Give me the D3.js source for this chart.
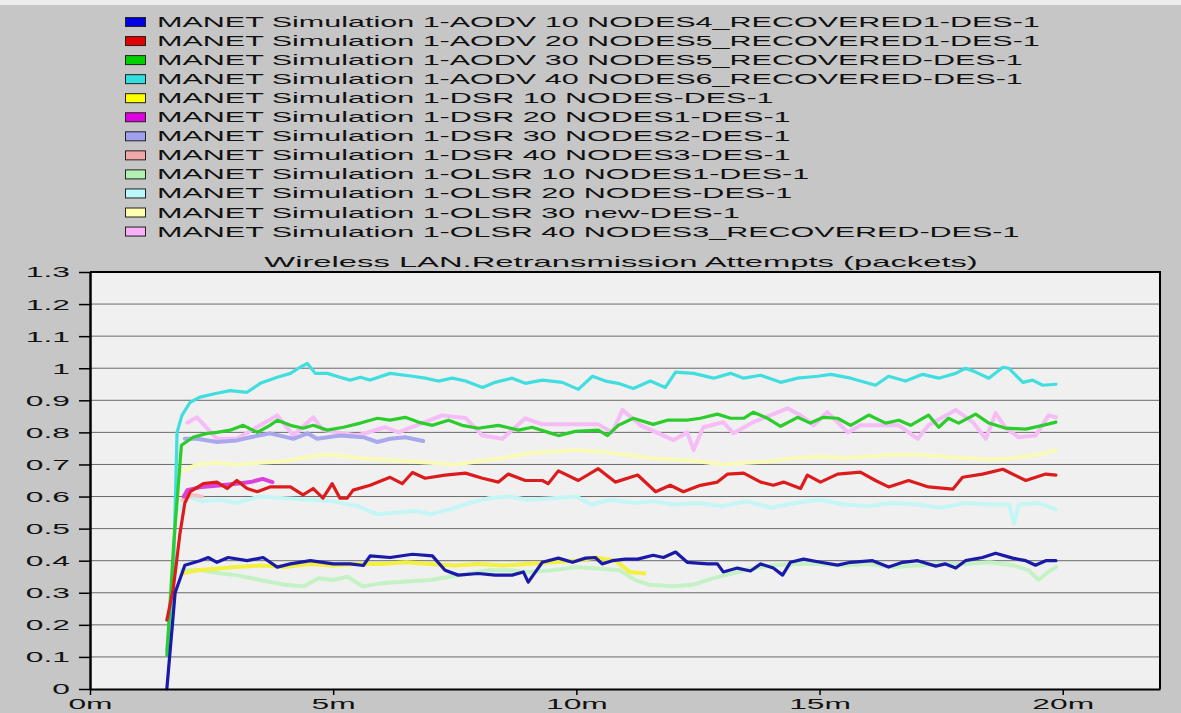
<!DOCTYPE html>
<html>
<head>
<meta charset="utf-8">
<script src="https://cdn.jsdelivr.net/npm/d3@7"></script>
<style>
  body { margin: 0; background: #c6c6c6; }
  svg { display: block; font-family: Arial, "Liberation Sans", sans-serif; }
</style>
</head>
<body>
<svg id="chart" width="1181" height="713"></svg>
<script>
// series names as in the OPNET legend
const seriesNames = [
  'MANET Simulation 1-AODV 10 NODES4_RECOVERED1-DES-1',
  'MANET Simulation 1-AODV 20 NODES5_RECOVERED1-DES-1',
  'MANET Simulation 1-AODV 30 NODES5_RECOVERED-DES-1',
  'MANET Simulation 1-AODV 40 NODES6_RECOVERED-DES-1',
  'MANET Simulation 1-DSR 10 NODES-DES-1',
  'MANET Simulation 1-DSR 20 NODES1-DES-1',
  'MANET Simulation 1-DSR 30 NODES2-DES-1',
  'MANET Simulation 1-DSR 40 NODES3-DES-1',
  'MANET Simulation 1-OLSR 10 NODES1-DES-1',
  'MANET Simulation 1-OLSR 20 NODES-DES-1',
  'MANET Simulation 1-OLSR 30 new-DES-1',
  'MANET Simulation 1-OLSR 40 NODES3_RECOVERED-DES-1'
]

const chartTitle = 'Wireless LAN.Retransmission Attempts (packets)'
const yTicks = [0, 0.1, 0.2, 0.3, 0.4, 0.5, 0.6, 0.7, 0.8, 0.9, 1, 1.1, 1.2, 1.3]
const xTicks = [0, 5, 10, 15, 20]
const xTickLabels = ['0m', '5m', '10m', '15m', '20m']

// [minutes, packets]
const aodv10 = [[1.58,0],[1.75,0.30],[1.95,0.386],[2.26,0.40],[2.43,0.41],[2.61,0.395],[2.84,0.41],[3.23,0.40],[3.56,0.41],[3.85,0.38],[4.12,0.39],[4.53,0.40],[5.0,0.39],[5.35,0.39],[5.62,0.385],[5.76,0.415],[6.17,0.41],[6.63,0.42],[7.04,0.415],[7.30,0.37],[7.57,0.355],[7.98,0.36],[8.33,0.355],[8.68,0.355],[8.91,0.365],[9.01,0.333],[9.16,0.365],[9.30,0.395],[9.63,0.408],[9.92,0.395],[10.19,0.408],[10.39,0.41],[10.53,0.39],[10.74,0.40],[11.01,0.405],[11.26,0.405],[11.58,0.417],[11.79,0.41],[12.04,0.427],[12.28,0.395],[12.70,0.39],[12.90,0.39],[13.02,0.365],[13.31,0.377],[13.58,0.368],[13.79,0.39],[14.05,0.377],[14.24,0.355],[14.40,0.395],[14.67,0.405],[15.02,0.395],[15.37,0.386],[15.64,0.395],[16.09,0.40],[16.42,0.38],[16.71,0.395],[17.02,0.40],[17.39,0.383],[17.59,0.39],[17.80,0.377],[18.0,0.40],[18.35,0.41],[18.62,0.423],[18.97,0.408],[19.24,0.40],[19.44,0.386],[19.65,0.40],[19.86,0.40]]
const aodv20 = [[1.58,0.215],[1.71,0.31],[1.85,0.485],[1.95,0.58],[2.06,0.615],[2.33,0.64],[2.61,0.645],[2.82,0.625],[3.02,0.65],[3.23,0.625],[3.44,0.615],[3.70,0.63],[4.12,0.63],[4.38,0.605],[4.59,0.625],[4.79,0.595],[4.98,0.64],[5.14,0.595],[5.29,0.595],[5.41,0.62],[5.76,0.635],[6.17,0.66],[6.42,0.64],[6.63,0.675],[6.89,0.657],[7.30,0.667],[7.72,0.673],[8.07,0.657],[8.40,0.645],[8.60,0.67],[8.95,0.65],[9.30,0.65],[9.42,0.64],[9.63,0.68],[10.04,0.65],[10.45,0.687],[10.80,0.645],[11.26,0.667],[11.63,0.615],[11.93,0.635],[12.20,0.615],[12.55,0.635],[12.90,0.645],[13.11,0.67],[13.44,0.673],[13.79,0.645],[14.05,0.635],[14.26,0.645],[14.61,0.625],[14.75,0.667],[15.02,0.645],[15.37,0.67],[15.84,0.676],[16.15,0.65],[16.42,0.63],[16.83,0.65],[17.24,0.63],[17.74,0.623],[17.94,0.66],[18.35,0.67],[18.77,0.685],[19.24,0.65],[19.65,0.67],[19.86,0.667]]
const aodv30 = [[1.58,0.105],[1.72,0.45],[1.88,0.76],[2.12,0.785],[2.41,0.797],[2.61,0.80],[2.88,0.807],[3.15,0.822],[3.44,0.80],[3.70,0.822],[3.85,0.838],[4.12,0.822],[4.38,0.813],[4.59,0.822],[4.88,0.807],[5.21,0.816],[5.56,0.829],[5.91,0.844],[6.17,0.838],[6.48,0.847],[6.75,0.832],[7.04,0.822],[7.37,0.838],[7.65,0.822],[7.98,0.813],[8.40,0.822],[8.81,0.807],[9.09,0.816],[9.42,0.80],[9.63,0.79],[9.98,0.803],[10.45,0.807],[10.64,0.79],[10.86,0.822],[11.17,0.844],[11.58,0.825],[11.87,0.838],[12.28,0.838],[12.55,0.844],[12.90,0.857],[13.17,0.844],[13.44,0.844],[13.64,0.863],[13.93,0.844],[14.20,0.819],[14.55,0.847],[14.81,0.829],[15.08,0.847],[15.37,0.844],[15.64,0.822],[16.01,0.854],[16.36,0.829],[16.63,0.838],[16.87,0.822],[17.24,0.854],[17.45,0.816],[17.65,0.844],[17.86,0.829],[18.21,0.857],[18.48,0.829],[18.83,0.813],[19.24,0.81],[19.59,0.822],[19.86,0.832]]
const aodv40 = [[1.58,0.12],[1.71,0.32],[1.79,0.80],[1.89,0.853],[2.06,0.894],[2.26,0.91],[2.61,0.922],[2.88,0.93],[3.23,0.925],[3.50,0.953],[3.85,0.972],[4.12,0.984],[4.32,1.003],[4.47,1.015],[4.63,0.984],[4.88,0.984],[5.14,0.972],[5.35,0.963],[5.56,0.972],[5.76,0.963],[6.17,0.984],[6.63,0.975],[6.89,0.969],[7.16,0.96],[7.45,0.969],[7.72,0.96],[8.07,0.94],[8.33,0.956],[8.68,0.969],[8.95,0.953],[9.30,0.963],[9.71,0.956],[10.04,0.934],[10.33,0.975],[10.60,0.96],[10.86,0.953],[11.17,0.937],[11.52,0.96],[11.83,0.94],[12.04,0.988],[12.41,0.984],[12.82,0.969],[13.17,0.984],[13.44,0.969],[13.79,0.978],[14.20,0.956],[14.55,0.969],[14.96,0.975],[15.23,0.981],[15.64,0.969],[16.15,0.947],[16.42,0.975],[16.77,0.96],[17.12,0.981],[17.45,0.969],[17.80,0.984],[18.0,1.0],[18.21,0.988],[18.48,0.969],[18.77,1.003],[18.89,1.0],[19.18,0.956],[19.38,0.963],[19.59,0.947],[19.86,0.95]]
const dsr10 = [[1.9,0.36],[2.2,0.37],[2.6,0.375],[3.0,0.38],[3.5,0.385],[4.0,0.38],[4.5,0.39],[5.0,0.385],[5.5,0.39],[6.0,0.39],[6.5,0.395],[7.0,0.39],[7.5,0.385],[8.0,0.39],[8.5,0.385],[9.0,0.39],[9.5,0.395],[10.0,0.40],[10.4,0.41],[10.8,0.40],[11.1,0.365],[11.4,0.36]]
const dsr20 = [[1.93,0.60],[2.0,0.62],[2.3,0.63],[2.7,0.635],[3.0,0.64],[3.3,0.645],[3.55,0.655],[3.75,0.645]]
const dsr30 = [[1.95,0.78],[2.2,0.78],[2.61,0.77],[3.02,0.775],[3.3,0.785],[3.7,0.797],[4.18,0.78],[4.47,0.797],[4.67,0.78],[5.14,0.79],[5.62,0.785],[5.91,0.77],[6.17,0.78],[6.48,0.785],[6.85,0.773]]
const dsr40 = [[1.9,0.59],[2.1,0.605],[2.3,0.60]]
const olsr10 = [[1.9,0.37],[2.3,0.37],[2.7,0.36],[3.0,0.355],[3.5,0.34],[4.0,0.325],[4.4,0.32],[4.7,0.345],[5.0,0.34],[5.3,0.35],[5.6,0.32],[6.0,0.33],[6.5,0.335],[7.0,0.34],[7.4,0.35],[7.8,0.36],[8.2,0.37],[8.6,0.37],[9.0,0.365],[9.5,0.37],[10.0,0.38],[10.5,0.375],[10.9,0.37],[11.2,0.34],[11.5,0.325],[12.0,0.32],[12.4,0.325],[12.8,0.345],[13.2,0.36],[13.6,0.375],[14.0,0.385],[14.5,0.39],[15.0,0.39],[15.5,0.385],[16.0,0.39],[16.5,0.38],[17.0,0.385],[17.5,0.39],[18.0,0.39],[18.5,0.395],[19.0,0.385],[19.3,0.37],[19.5,0.34],[19.7,0.365],[19.86,0.38]]
const olsr20 = [[1.85,0.56],[2.0,0.60],[2.3,0.585],[2.7,0.59],[3.0,0.58],[3.5,0.60],[4.0,0.595],[4.5,0.59],[5.0,0.585],[5.5,0.57],[5.9,0.545],[6.3,0.55],[6.7,0.555],[7.0,0.545],[7.4,0.56],[7.8,0.58],[8.2,0.595],[8.6,0.60],[9.0,0.59],[9.5,0.595],[10.0,0.60],[10.3,0.575],[10.7,0.59],[11.2,0.58],[11.6,0.585],[12.0,0.575],[12.5,0.58],[13.0,0.57],[13.5,0.585],[14.0,0.565],[14.5,0.58],[15.0,0.59],[15.5,0.575],[16.0,0.57],[16.5,0.58],[17.0,0.575],[17.5,0.565],[18.0,0.58],[18.5,0.575],[18.9,0.575],[19.0,0.515],[19.1,0.575],[19.5,0.58],[19.86,0.56]]
const olsr30 = [[1.9,0.68],[2.2,0.70],[2.6,0.705],[3.0,0.70],[3.5,0.705],[4.0,0.71],[4.5,0.725],[5.0,0.73],[5.5,0.72],[6.0,0.715],[6.5,0.71],[7.0,0.705],[7.5,0.70],[8.0,0.71],[8.5,0.72],[9.0,0.735],[9.5,0.74],[10.0,0.745],[10.5,0.74],[11.0,0.73],[11.5,0.72],[12.0,0.715],[12.5,0.71],[13.0,0.70],[13.5,0.705],[14.0,0.71],[14.5,0.72],[15.0,0.725],[15.5,0.72],[16.0,0.725],[16.5,0.73],[17.0,0.73],[17.5,0.725],[18.0,0.72],[18.5,0.715],[19.0,0.72],[19.5,0.73],[19.86,0.745]]
const olsr40 = [[2.0,0.83],[2.2,0.847],[2.61,0.78],[3.02,0.78],[3.85,0.853],[4.18,0.79],[4.59,0.847],[4.79,0.807],[5.49,0.79],[6.07,0.816],[6.34,0.80],[7.24,0.853],[7.72,0.845],[8.07,0.79],[8.48,0.78],[8.95,0.844],[9.30,0.825],[9.92,0.825],[10.45,0.825],[10.74,0.80],[10.95,0.87],[11.32,0.822],[12.0,0.776],[12.28,0.80],[12.41,0.745],[12.61,0.816],[13.02,0.832],[13.23,0.797],[13.64,0.832],[13.99,0.853],[14.34,0.875],[14.61,0.853],[14.88,0.822],[15.16,0.863],[15.58,0.80],[15.84,0.822],[16.15,0.822],[16.63,0.822],[17.02,0.78],[17.24,0.822],[17.80,0.87],[18.15,0.832],[18.42,0.78],[18.62,0.86],[18.83,0.813],[19.09,0.785],[19.44,0.79],[19.71,0.853],[19.86,0.847]]

const seriesData = [aodv10, aodv20, aodv30, aodv40, dsr10, dsr20, dsr30, dsr40, olsr10, olsr20, olsr30, olsr40]
const seriesColors = ['#1a1aa8', '#dc1c1c', '#2ccc2c', '#40dede', '#f2f040', '#dc40dc', '#aaa8ec', '#f8c0c0', '#c4f2c4', '#c4f6f6', '#fafab8', '#f6bcf6']
const legendFill = ['#0000e0', '#e00000', '#00d000', '#30e0e0', '#ffff00', '#e000e0', '#a0a0f0', '#f0a8a8', '#b0f0b0', '#b8f8f8', '#ffffb0', '#f8b0f8']

const svg = d3.select('#chart')
const W = 1181
const H = 713
const plot = { left: 90, right: 1160, top: 272, bottom: 689 }

svg.append('rect').attr('width', W).attr('height', H).attr('fill', '#c6c6c6')
svg.append('rect').attr('width', W).attr('height', 5).attr('fill', '#ececec')

const xScale = d3.scaleLinear().domain([0, 22]).range([plot.left, plot.right])
const yScale = d3.scaleLinear().domain([0, 1.3]).range([plot.bottom, plot.top])

// legend
const legend = svg.append('g')
const rowGap = 19.05
seriesNames.forEach((name, i) => {
  const cy = 22 + i * rowGap
  legend.append('rect')
    .attr('x', 125.5).attr('y', cy - 4.5)
    .attr('width', 20).attr('height', 9)
    .attr('fill', legendFill[i])
    .attr('stroke', '#222').attr('stroke-width', 1)
  legend.append('text')
    .attr('transform', `translate(157, ${cy + 5}) scale(2.18, 1)`)
    .attr('font-size', 14)
    .attr('fill', '#111')
    .text(name)
})

// title
svg.append('text')
  .attr('transform', `translate(621, 267) scale(2.34, 1)`)
  .attr('text-anchor', 'middle')
  .attr('font-size', 14)
  .attr('fill', '#111')
  .text(chartTitle)

// plot background
svg.append('rect')
  .attr('x', plot.left).attr('y', plot.top)
  .attr('width', plot.right - plot.left).attr('height', plot.bottom - plot.top)
  .attr('fill', '#f0f0f0')

// grid
svg.append('g')
  .selectAll('line')
  .data(yTicks.filter(d => d > 0 && d < 1.3))
  .enter()
  .append('line')
  .attr('x1', plot.left).attr('x2', plot.right)
  .attr('y1', d => yScale(d)).attr('y2', d => yScale(d))
  .attr('stroke', '#6a6a6a').attr('stroke-width', 1)

// series, last legend entry drawn first
const line = d3.line().x(d => xScale(d[0])).y(d => yScale(d[1]))
const lineGroup = svg.append('g')
d3.range(seriesData.length - 1, -1, -1).forEach(i => {
  lineGroup.append('path')
    .datum(seriesData[i])
    .attr('d', line)
    .attr('fill', 'none')
    .attr('stroke', seriesColors[i])
    .attr('stroke-width', i < 4 ? 3.2 : 4)
    .attr('stroke-linejoin', 'round')
    .attr('stroke-linecap', 'round')
})

// frame
svg.append('path')
  .attr('d', `M${plot.left},${plot.top}H${plot.right}V${plot.bottom}`)
  .attr('fill', 'none').attr('stroke', '#000').attr('stroke-width', 2)

// axes
const sxTick = 2.05
const leftAxis = d3.axisLeft(yScale).tickValues(yTicks).tickSize(11).tickSizeOuter(0).tickFormat(d3.format('~g'))
const gy = svg.append('g')
  .attr('transform', `translate(${plot.left}, 0)`)
  .call(leftAxis)
gy.select('.domain').attr('stroke', '#000').attr('stroke-width', 2.5)
gy.selectAll('.tick line').attr('stroke', '#000').attr('stroke-width', 1.5)
gy.selectAll('.tick text')
  .attr('font-size', 15.5)
  .attr('font-family', 'Arial, "Liberation Sans", sans-serif')
  .attr('fill', '#111')
  .attr('x', -20 / sxTick)
  .attr('transform', `scale(${sxTick}, 1)`)

const bottomAxis = d3.axisBottom(xScale).tickValues(xTicks).tickSize(6).tickSizeOuter(0).tickFormat((d, i) => xTickLabels[i])
const gx = svg.append('g')
  .attr('transform', `translate(0, ${plot.bottom})`)
  .call(bottomAxis)
gx.select('.domain').attr('stroke', '#000').attr('stroke-width', 2)
gx.selectAll('.tick line').attr('stroke', '#000').attr('stroke-width', 1.5)
gx.selectAll('.tick text')
  .attr('font-size', 15.5)
  .attr('font-family', 'Arial, "Liberation Sans", sans-serif')
  .attr('fill', '#111')
  .attr('y', 9)
  .attr('transform', `scale(${sxTick}, 1)`)
</script>
</body>
</html>
